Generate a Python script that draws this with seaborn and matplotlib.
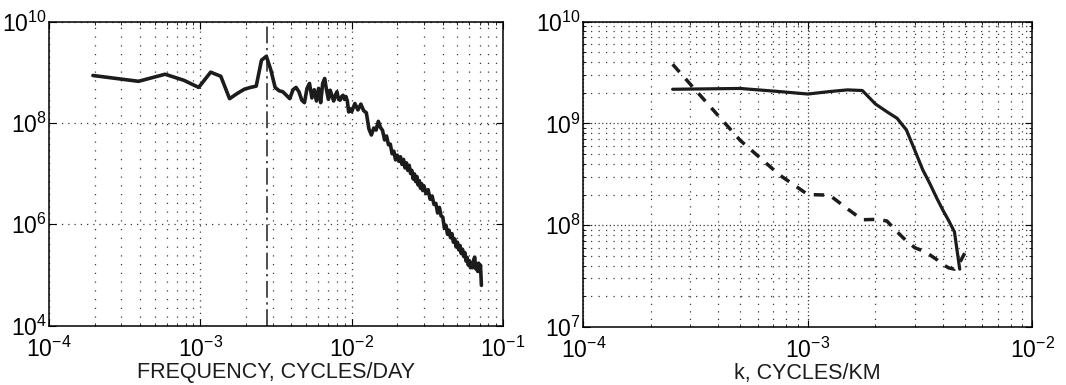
import numpy as np
import pandas as pd
import matplotlib
matplotlib.use("Agg")
import matplotlib.pyplot as plt
import seaborn as sns
from matplotlib.ticker import LogLocator, NullLocator, NullFormatter, LogFormatterSciNotation, FixedLocator

# ---------------- data: left panel (frequency spectrum) ----------------
freq_low = [1.95e-4, 3.90e-4, 5.85e-4, 7.80e-4, 9.75e-4, 1.17e-3, 1.365e-3, 1.56e-3, 1.755e-3, 1.95e-3,
            2.145e-3, 2.34e-3, 2.535e-3, 2.73e-3, 2.925e-3, 3.12e-3, 3.315e-3, 3.51e-3, 3.705e-3, 3.90e-3,
            4.095e-3, 4.29e-3, 4.485e-3, 4.68e-3, 4.875e-3, 5.07e-3, 5.265e-3, 5.46e-3, 5.655e-3, 5.85e-3,
            6.045e-3, 6.24e-3, 6.435e-3, 6.63e-3, 6.825e-3, 7.02e-3, 7.215e-3, 7.41e-3, 7.605e-3, 7.80e-3,
            7.995e-3, 8.19e-3, 8.385e-3, 8.58e-3, 8.775e-3, 8.97e-3, 9.165e-3, 9.36e-3, 9.555e-3, 9.75e-3]
psd_low = [8.6e8, 6.6e8, 9.1e8, 6.9e8, 5.0e8, 1.0e9, 8.3e8, 3.0e8, 3.8e8, 4.6e8,
           5.0e8, 5.3e8, 1.72e9, 2.06e9, 1.1e9, 5.0e8, 4.3e8, 4.1e8, 3.5e8, 3.0e8,
           4.5e8, 5.0e8, 4.1e8, 2.8e8, 2.5e8, 4.8e8, 6.0e8, 3.1e8, 4.5e8, 2.7e8,
           4.8e8, 2.5e8, 6.0e8, 7.5e8, 4.4e8, 2.9e8, 4.4e8, 3.4e8, 2.7e8, 3.5e8,
           4.1e8, 2.9e8, 2.8e8, 3.3e8, 3.5e8, 2.9e8, 3.3e8, 2.7e8, 1.64e8, 1.9e8]

freq_high = [1.00e-2, 1.05e-2, 1.10e-2, 1.15e-2, 1.20e-2, 1.25e-2, 1.30e-2, 1.35e-2, 1.40e-2, 1.45e-2,
             1.50e-2, 1.55e-2, 1.60e-2, 1.65e-2, 1.70e-2, 1.75e-2, 1.80e-2, 1.85e-2, 1.90e-2, 1.95e-2,
             2.00e-2, 2.05e-2, 2.10e-2, 2.15e-2, 2.20e-2, 2.25e-2, 2.30e-2, 2.35e-2, 2.40e-2, 2.45e-2,
             2.50e-2, 2.55e-2, 2.60e-2, 2.65e-2, 2.70e-2, 2.75e-2, 2.80e-2, 2.85e-2, 2.90e-2, 2.95e-2,
             3.00e-2, 3.10e-2, 3.20e-2, 3.30e-2, 3.40e-2, 3.50e-2, 3.60e-2, 3.70e-2, 3.80e-2, 3.90e-2,
             4.00e-2, 4.10e-2, 4.20e-2, 4.30e-2, 4.40e-2, 4.50e-2, 4.60e-2, 4.70e-2, 4.80e-2, 4.90e-2,
             5.00e-2, 5.10e-2, 5.20e-2, 5.30e-2, 5.40e-2, 5.50e-2, 5.60e-2, 5.70e-2, 5.80e-2, 5.90e-2,
             6.00e-2, 6.10e-2, 6.20e-2, 6.30e-2, 6.40e-2, 6.50e-2, 6.60e-2, 6.70e-2, 6.80e-2, 6.90e-2,
             7.00e-2, 7.10e-2, 7.20e-2]
psd_high = [1.66e8, 2.4e8, 1.8e8, 2.34e8, 1.74e8, 1.58e8, 7.6e7, 5.75e7, 7.9e7, 7.2e7,
            1.07e8, 8.1e7, 7.1e7, 4.6e7, 5.5e7, 3.7e7, 3.8e7, 2.45e7, 2.75e7, 1.86e7,
            2.3e7, 1.74e7, 2.14e7, 1.51e7, 1.9e7, 1.29e7, 1.62e7, 1.15e7, 1.45e7, 1.0e7,
            1.15e7, 7.8e6, 9.8e6, 6.9e6, 8.7e6, 5.9e6, 7.2e6, 5.1e6, 6.3e6, 4.6e6,
            5.75e6, 4.0e6, 4.8e6, 3.1e6, 3.6e6, 2.45e6, 2.57e6, 1.66e6, 2.14e6, 1.45e6,
            1.38e6, 8.3e5, 9.5e5, 6.3e5, 7.6e5, 5.4e5, 6.5e5, 4.4e5, 5.1e5, 3.55e5,
            4.4e5, 3.1e5, 3.8e5, 2.63e5, 3.2e5, 2.3e5, 2.75e5, 1.86e5, 2.2e5, 1.55e5,
            1.9e5, 1.38e5, 1.74e5, 1.38e5, 1.95e5, 2.24e5, 1.32e5, 1.62e5, 1.17e5, 1.7e5,
            1.15e5, 1.55e5, 6.2e4]

annual_freq = 2.74e-3   # 1/365 cycles per day

# ---------------- data: right panel (wavenumber spectra) ----------------
k_vals = [2.5e-4, 5.0e-4, 7.5e-4, 1.0e-3, 1.25e-3, 1.5e-3, 1.75e-3, 2.0e-3, 2.25e-3, 2.5e-3,
          2.75e-3, 3.0e-3, 3.25e-3, 3.5e-3, 3.75e-3, 4.0e-3, 4.25e-3, 4.5e-3, 4.75e-3, 5.0e-3]
solid_spec = [2.16e9, 2.2e9, 2.05e9, 1.94e9, 2.05e9, 2.13e9, 2.1e9, 1.55e9, 1.3e9, 1.12e9,
              8.6e8, 5.4e8, 3.5e8, 2.55e8, 1.85e8, 1.4e8, 1.1e8, 8.6e7, 3.7e7]
dashed_spec = [3.8e9, 6.8e8, 3.1e8, 2.0e8, 1.97e8, 1.45e8, 1.13e8, 1.14e8, 1.1e8, 8.6e7,
               7.0e7, 6.0e7, 5.6e7, 5.1e7, 4.6e7, 4.1e7, 3.8e7, 3.7e7, 4.3e7, 5.3e7]

left_xlabel = "FREQUENCY, CYCLES/DAY"
right_xlabel = "k, CYCLES/KM"

# ---------------- styling ----------------
sns.set_theme(style="white")
plt.rcParams["font.family"] = ["Liberation Sans", "DejaVu Sans"]
plt.rcParams["mathtext.default"] = "regular"
plt.rcParams["axes.unicode_minus"] = True

INK = "#1c1c1c"
GRID = "#3a3a3a"
TICK_FS = 16.5
LABEL_FS = 15.5

fig = plt.figure(figsize=(10.66, 3.85), dpi=100)
axL = fig.add_axes([49 / 1066, 1 - 325.5 / 385, 454 / 1066, 304 / 385])
axR = fig.add_axes([583.3 / 1066, 1 - 327 / 385, 449 / 1066, 305.5 / 385])

df_left = pd.DataFrame({"f": freq_low + freq_high, "P": psd_low + psd_high})
df_r_solid = pd.DataFrame({"k": k_vals[:len(solid_spec)], "P": solid_spec})
df_r_dash = pd.DataFrame({"k": k_vals, "P": dashed_spec})

for ax in (axL, axR):
    ax.set_xscale("log")
    ax.set_yscale("log")

sns.lineplot(data=df_left, x="f", y="P", ax=axL, color=INK, lw=2.6, estimator=None, sort=False)
axL.axvline(annual_freq, color=INK, lw=1.1, linestyle=(0, (11, 3, 1.5, 3)))

sns.lineplot(data=df_r_solid, x="k", y="P", ax=axR, color=INK, lw=2.3, estimator=None, sort=False)
sns.lineplot(data=df_r_dash, x="k", y="P", ax=axR, color=INK, lw=2.5, estimator=None, sort=False,
             linestyle=(0, (3.0, 2.6)))

# limits
axL.set_xlim(1e-4, 1e-1)
axL.set_ylim(1e4, 1e10)
axR.set_xlim(1e-4, 1e-2)
axR.set_ylim(1e7, 1e10)

for ax in (axL, axR):
    ax.xaxis.set_major_locator(LogLocator(base=10, numticks=10))
    ax.xaxis.set_minor_locator(LogLocator(base=10, subs=np.arange(2, 10), numticks=20))
    ax.xaxis.set_major_formatter(LogFormatterSciNotation())
    ax.xaxis.set_minor_formatter(NullFormatter())
    ax.yaxis.set_minor_formatter(NullFormatter())
    ax.yaxis.set_major_formatter(LogFormatterSciNotation())
    for s in ax.spines.values():
        s.set_color("black")
        s.set_linewidth(1.1)
    ax.tick_params(which="both", direction="in", top=True, right=True, bottom=True, left=True,
                   colors="black", labelsize=TICK_FS)
    ax.tick_params(which="major", length=5, width=0.8)
    ax.tick_params(which="minor", length=2.5, width=0.6)
    ax.tick_params(axis="x", pad=8)
    ax.tick_params(axis="y", pad=1.5)
    ax.set_ylabel("")

axL.yaxis.set_major_locator(FixedLocator([1e4, 1e6, 1e8, 1e10]))
axL.yaxis.set_minor_locator(NullLocator())
axR.yaxis.set_major_locator(LogLocator(base=10, numticks=10))
axR.yaxis.set_minor_locator(LogLocator(base=10, subs=np.arange(2, 10), numticks=20))

# grids (MATLAB-like dotted)
axL.grid(True, which="major", axis="both", color=GRID, lw=0.9, linestyle=(0, (1, 4)))
axL.grid(True, which="minor", axis="x", color=GRID, lw=0.9, linestyle=(0, (1, 6)))
axR.grid(True, which="major", axis="both", color=GRID, lw=0.9, linestyle=(0, (1, 2)))
axR.grid(True, which="minor", axis="both", color=GRID, lw=0.9, linestyle=(0, (1, 5)))
for ax in (axL, axR):
    ax.set_axisbelow(True)

axL.set_xlabel(left_xlabel, fontsize=LABEL_FS, color=INK, labelpad=0)
axR.set_xlabel(right_xlabel, fontsize=LABEL_FS, color=INK, labelpad=0)

fig.savefig("out.png", dpi=100, facecolor="white")
